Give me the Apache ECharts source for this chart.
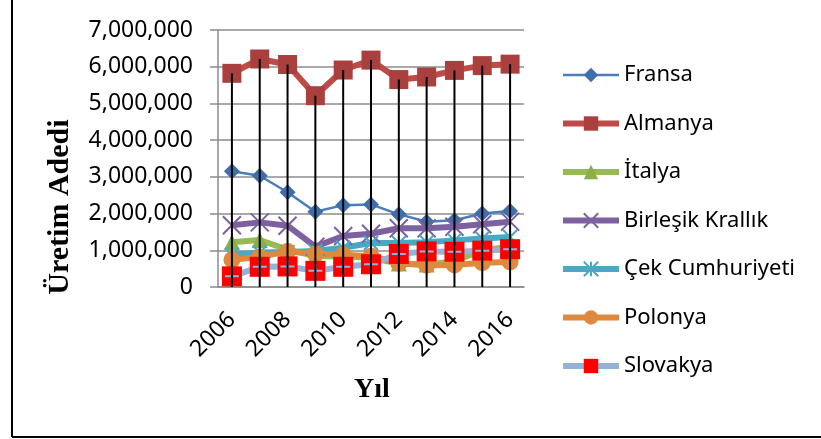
<!DOCTYPE html>
<html>
<head>
<meta charset="utf-8">
<script src="https://cdn.jsdelivr.net/npm/echarts@6/dist/echarts.min.js"></script>
<style>
  html, body { margin: 0; padding: 0; background: #fff; }
  #chart { width: 821px; height: 439px; }
</style>
</head>
<body>
<div id="chart"></div>
<script>
const years = ['2006', '2007', '2008', '2009', '2010', '2011', '2012', '2013', '2014', '2015', '2016']
const fransa = [3150000, 3030000, 2580000, 2050000, 2230000, 2250000, 1980000, 1780000, 1820000, 2000000, 2070000]
const almanya = [5820000, 6210000, 6060000, 5210000, 5910000, 6180000, 5650000, 5720000, 5900000, 6030000, 6070000]
const italya = [1220000, 1280000, 1020000, 840000, 840000, 790000, 640000, 610000, 700000, 1000000, 1100000]
const birlesik = [1680000, 1760000, 1670000, 1100000, 1390000, 1450000, 1600000, 1600000, 1640000, 1710000, 1780000]
const cek = [880000, 940000, 950000, 980000, 1070000, 1200000, 1200000, 1220000, 1270000, 1320000, 1360000]
const polonya = [740000, 820000, 970000, 900000, 880000, 840000, 650000, 590000, 600000, 660000, 680000]
const slovakya = [290000, 550000, 560000, 440000, 550000, 620000, 900000, 970000, 960000, 990000, 1030000]

const font = 'Noto Sans'

const myChart = echarts.init(document.getElementById('chart'))

function lineSeries(name, data, color, width, symbol, size, fill) {
  return {
    name: name,
    type: 'line',
    data: data,
    symbol: symbol,
    symbolSize: size,
    showAllSymbol: true,
    lineStyle: { color: color, width: width },
    itemStyle: fill
  }
}

// legend entries, thick line icons like the plot
function legendItem(name, width) {
  return { name: name, lineStyle: { width: width } }
}

const option = {
  animation: false,
  grid: { left: 218, right: 297, top: 30, bottom: 152 },
  legend: {
    orient: 'vertical',
    left: 560,
    top: 62,
    padding: 0,
    itemWidth: 56,
    itemHeight: 18,
    itemGap: 22.5,
    textStyle: { fontFamily: font, fontSize: 22, color: '#000', lineHeight: 26 },
    data: [
      legendItem('Fransa', 2.5),
      legendItem('Almanya', 6),
      legendItem('İtalya', 6),
      legendItem('Birleşik Krallık', 6),
      legendItem('Çek Cumhuriyeti', 6),
      legendItem('Polonya', 6),
      legendItem('Slovakya', 6)
    ]
  },
  xAxis: {
    type: 'category',
    data: years,
    boundaryGap: true,
    axisLine: { lineStyle: { color: '#8c8c8c', width: 1.5 } },
    axisTick: { show: false },
    axisLabel: {
      interval: 1,
      rotate: 45,
      margin: 29,
      fontFamily: font,
      fontSize: 23,
      color: '#000'
    },
    splitLine: { show: false }
  },
  yAxis: {
    type: 'value',
    min: 0,
    max: 7000000,
    interval: 1000000,
    axisLine: { show: true, lineStyle: { color: '#8c8c8c', width: 1.5 } },
    axisTick: { show: true, length: 8, lineStyle: { color: '#8c8c8c', width: 1.5 } },
    axisLabel: {
      margin: 25,
      fontFamily: font,
      fontSize: 23,
      color: '#000',
      formatter: v => v.toLocaleString('en-US')
    },
    splitLine: { lineStyle: { color: '#8c8c8c', width: 1.5 } }
  },
  series: [
    lineSeries('Fransa', fransa, '#4A7EBB', 2.5, 'diamond', 16, { color: '#3F6FAA' }),
    lineSeries('Almanya', almanya, '#BE4B48', 6, 'rect', 19, { color: '#A9403D' }),
    lineSeries('İtalya', italya, '#98B954', 6, 'triangle', 16, { color: '#8AAE48' }),
    lineSeries('Birleşik Krallık', birlesik, '#7D60A0', 6, 'path://M0,0L10,10M10,0L0,10', 18,
      { color: 'rgba(0,0,0,0)', borderColor: '#7D60A0', borderWidth: 2 }),
    lineSeries('Çek Cumhuriyeti', cek, '#46AAC5', 6, 'path://M5,0L5,10M0,0L10,10M10,0L0,10', 14,
      { color: 'rgba(0,0,0,0)', borderColor: '#46AAC5', borderWidth: 2 }),
    lineSeries('Polonya', polonya, '#DE8A3E', 6, 'circle', 17, { color: '#DE8A3E' }),
    lineSeries('Slovakya', slovakya, '#95B3D7', 6, 'rect', 20, { color: '#FF0000' }),
    {
      // plus drawn over the red squares
      name: 'Slovakya+',
      type: 'line',
      data: slovakya,
      symbol: 'path://M5,0L5,10M0,5L10,5',
      symbolSize: 14,
      lineStyle: { width: 0, opacity: 0 },
      itemStyle: { color: 'rgba(0,0,0,0)', borderColor: '#95B3D7', borderWidth: 2 },
      z: 3
    },
    {
      // drop lines from the top series to the axis
      name: 'drop',
      type: 'bar',
      data: almanya,
      barWidth: 2,
      itemStyle: { color: '#000' },
      z: 5
    }
  ],
  graphic: [
    {
      type: 'text',
      x: 60,
      y: 207,
      rotation: Math.PI / 2,
      style: {
        text: 'Üretim Adedi',
        fontFamily: 'Liberation Serif',
        fontWeight: 'bold',
        fontSize: 30,
        fill: '#000',
        align: 'center',
        verticalAlign: 'middle'
      }
    },
    {
      type: 'text',
      x: 372,
      y: 390,
      style: {
        text: 'Yıl',
        fontFamily: 'Liberation Serif',
        fontWeight: 'bold',
        fontSize: 28,
        fill: '#000',
        align: 'center',
        verticalAlign: 'middle'
      }
    },
    {
      type: 'line',
      shape: { x1: 12, y1: 0, x2: 12, y2: 437 },
      style: { stroke: '#000', lineWidth: 2 }
    },
    {
      type: 'line',
      shape: { x1: 12, y1: 437, x2: 821, y2: 437 },
      style: { stroke: '#000', lineWidth: 2 }
    }
  ]
}

myChart.setOption(option)
</script>
</body>
</html>
